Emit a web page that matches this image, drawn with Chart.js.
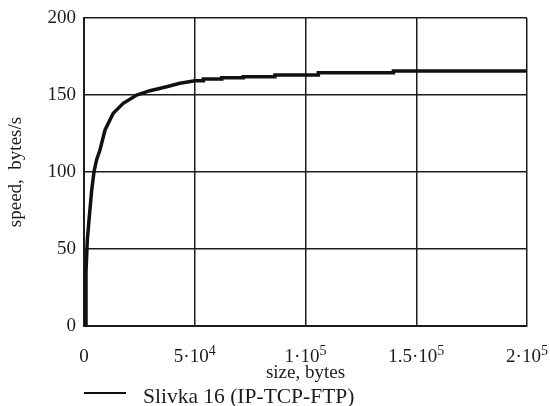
<!DOCTYPE html>
<html>
<head>
  <title>Slivka 16 transfer speed</title>
  <style>
    body { margin: 0; background: #fff; }
    #wrap { width: 550px; height: 406px; }
  </style>
</head>
<body>
  <div id="wrap"><canvas id="speedChart" width="550" height="406"></canvas></div>

  <script src="https://cdn.jsdelivr.net/npm/chart.js@4.4.0/dist/chart.umd.js"></script>
  <script>
    // file size (bytes) and measured speed (bytes/s)
    const sizeBytes = [900, 900, 1500, 2400, 3500, 4500, 5700, 7200, 9500, 13200, 17700, 23800, 29800, 37300, 43300,
                       50100, 53900, 53900, 62200, 62200, 71900, 71900, 86200, 86200, 105800, 105800, 139700, 139700, 200000];
    const speedBps = [0, 35, 56, 71, 88.5, 100, 108, 114.3, 127.3, 138.2, 144.6, 150, 152.8, 155.4, 157.6,
                      159.3, 159.3, 160.4, 160.4, 161.2, 161.2, 161.9, 161.9, 163, 163, 164.5, 164.5, 165.6, 165.6];

    const xTickValues = [0, 50000, 100000, 150000, 200000];
    const xTickBases = ['0', '5·10', '1·10', '1.5·10', '2·10'];
    const xTickExps = ['', '4', '5', '5', '5'];
    const yTickValues = [0, 50, 100, 150, 200];

    const seriesName = 'Slivka 16 (IP-TCP-FTP)';
    const serif = 'Liberation Serif';
    const ink = '#1c1c1c';

    // x tick labels with raised exponents (a·10^n)
    const powerTicks = {
      id: 'powerTicks',
      afterDraw(chart) {
        const ctx = chart.ctx;
        const xs = chart.scales.x;
        const baseY = chart.chartArea.bottom + 36;
        const mainFont = '19px "' + serif + '"';
        const expFont = '14px "' + serif + '"';
        ctx.save();
        ctx.fillStyle = ink;
        ctx.textBaseline = 'alphabetic';
        ctx.textAlign = 'left';
        xTickValues.forEach((v, i) => {
          ctx.font = mainFont;
          const wb = ctx.measureText(xTickBases[i]).width;
          ctx.font = expFont;
          const we = ctx.measureText(xTickExps[i]).width;
          const x0 = xs.getPixelForValue(v) - (wb + we) / 2;
          ctx.font = mainFont;
          ctx.fillText(xTickBases[i], x0, baseY);
          ctx.font = expFont;
          ctx.fillText(xTickExps[i], x0 + wb, baseY - 7.5);
        });
        ctx.restore();
      }
    };

    // legend drawn under the axis title: short line + label
    const seriesKey = {
      id: 'seriesKey',
      afterDraw(chart) {
        const ds = chart.data.datasets[0];
        const ctx = chart.ctx;
        const left = chart.chartArea.left;
        const y = chart.height - 13;
        ctx.save();
        ctx.strokeStyle = ds.borderColor;
        ctx.lineWidth = 2;
        ctx.beginPath();
        ctx.moveTo(left, y);
        ctx.lineTo(left + 42, y);
        ctx.stroke();
        ctx.fillStyle = ink;
        ctx.font = '21.5px "' + serif + '"';
        ctx.textBaseline = 'alphabetic';
        ctx.fillText(ds.label, left + 59, y + 10);
        ctx.restore();
      }
    };

    const ctx = document.getElementById('speedChart').getContext('2d');
    new Chart(ctx, {
      type: 'line',
      data: {
        datasets: [{
          label: seriesName,
          data: sizeBytes.map((s, i) => ({ x: s, y: speedBps[i] })),
          borderColor: '#111',
          borderWidth: 3.5,
          pointRadius: 0,
          tension: 0,
          fill: false
        }]
      },
      options: {
        responsive: false,
        devicePixelRatio: 1,
        animation: false,
        layout: { padding: { top: 18, right: 23, bottom: 22, left: 0 } },
        plugins: {
          legend: { display: false },
          tooltip: { enabled: false }
        },
        scales: {
          x: {
            type: 'linear',
            min: 0,
            max: 200000,
            afterFit: (scale) => {
              scale.height = 58;
              scale.paddingLeft = 0;
              scale.paddingRight = 0;
            },
            afterBuildTicks: (scale) => { scale.ticks = xTickValues.map(v => ({ value: v })); },
            ticks: { display: false },
            grid: { color: ink, lineWidth: 1.5, drawTicks: false },
            border: { color: ink, width: 2 },
            title: {
              display: true,
              text: 'size, bytes',
              color: ink,
              padding: 0,
              font: { family: serif, size: 19 }
            }
          },
          y: {
            min: 0,
            max: 200,
            afterFit: (scale) => {
              scale.width = 84;
              scale.paddingTop = 0;
              scale.paddingBottom = 0;
            },
            afterBuildTicks: (scale) => { scale.ticks = yTickValues.map(v => ({ value: v })); },
            ticks: {
              color: ink,
              padding: 8,
              font: { family: serif, size: 19 }
            },
            grid: { color: ink, lineWidth: 1.5, drawTicks: false },
            border: { color: ink, width: 2 },
            title: {
              display: true,
              text: 'speed,  bytes/s',
              color: ink,
              padding: { top: 5, bottom: 0 },
              font: { family: serif, size: 19 }
            }
          }
        }
      },
      plugins: [powerTicks, seriesKey]
    });
  </script>
</body>
</html>
